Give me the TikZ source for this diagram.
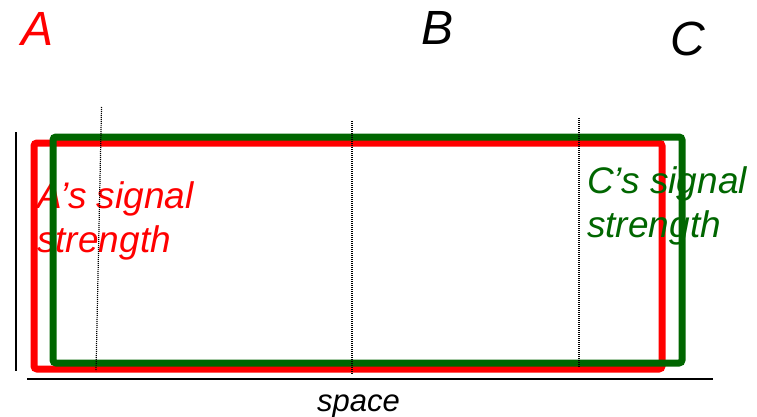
\documentclass[tikz,border=0pt]{standalone}
\usepackage{fontspec}
\setmainfont{Liberation Sans}
\definecolor{sred}{RGB}{255,0,0}
\definecolor{sgreen}{RGB}{0,102,0}
\begin{document}
\begin{tikzpicture}[x=1pt,y=-1pt,
  bigletter/.style={font=\fontsize{48}{52}\selectfont\itshape, inner sep=0, anchor=base west},
  sigtext/.style={font=\fontsize{37}{44}\selectfont\itshape, inner sep=0, anchor=base west},
  sigbox/.style={line width=7pt, rounded corners=3pt},
  guide/.style={line width=1.2pt, dash pattern=on 1pt off 1pt},
  axis/.style={line width=2pt}]
\useasboundingbox (0,0) rectangle (757,417);
% axes
\draw[axis] (16,132) -- (16,371);
\draw[axis] (27,379) -- (713,379);
% labels
\node[bigletter, text=sred] (A) at (21,46) {A};
\node[bigletter, text=black] (B) at (421,45) {B};
\node[bigletter, text=black] (C) at (670,56) {C};
% red box and text
\draw[sigbox, sred] (34,143) rectangle (662,369);
\node[sigtext, text=sred] (a1) at (37,208) {A’s signal};
\node[sigtext, text=sred] (a2) at (37,252) {strength};
% green box and text
\draw[sigbox, sgreen] (53,137) rectangle (682,363);
\node[sigtext, text=sgreen] (c1) at (587,193) {C’s signal};
\node[sigtext, text=sgreen] (c2) at (587,237) {strength};
% space label
\node[font=\fontsize{31}{34}\selectfont\itshape, inner sep=0, anchor=base west] (sp) at (317,411) {space};
% dotted guides
\draw[guide] (101.5,107) -- (96,371);
\draw[guide] (352,121) -- (352,375);
\draw[guide] (579,118) -- (579,367);
\end{tikzpicture}
\end{document}
